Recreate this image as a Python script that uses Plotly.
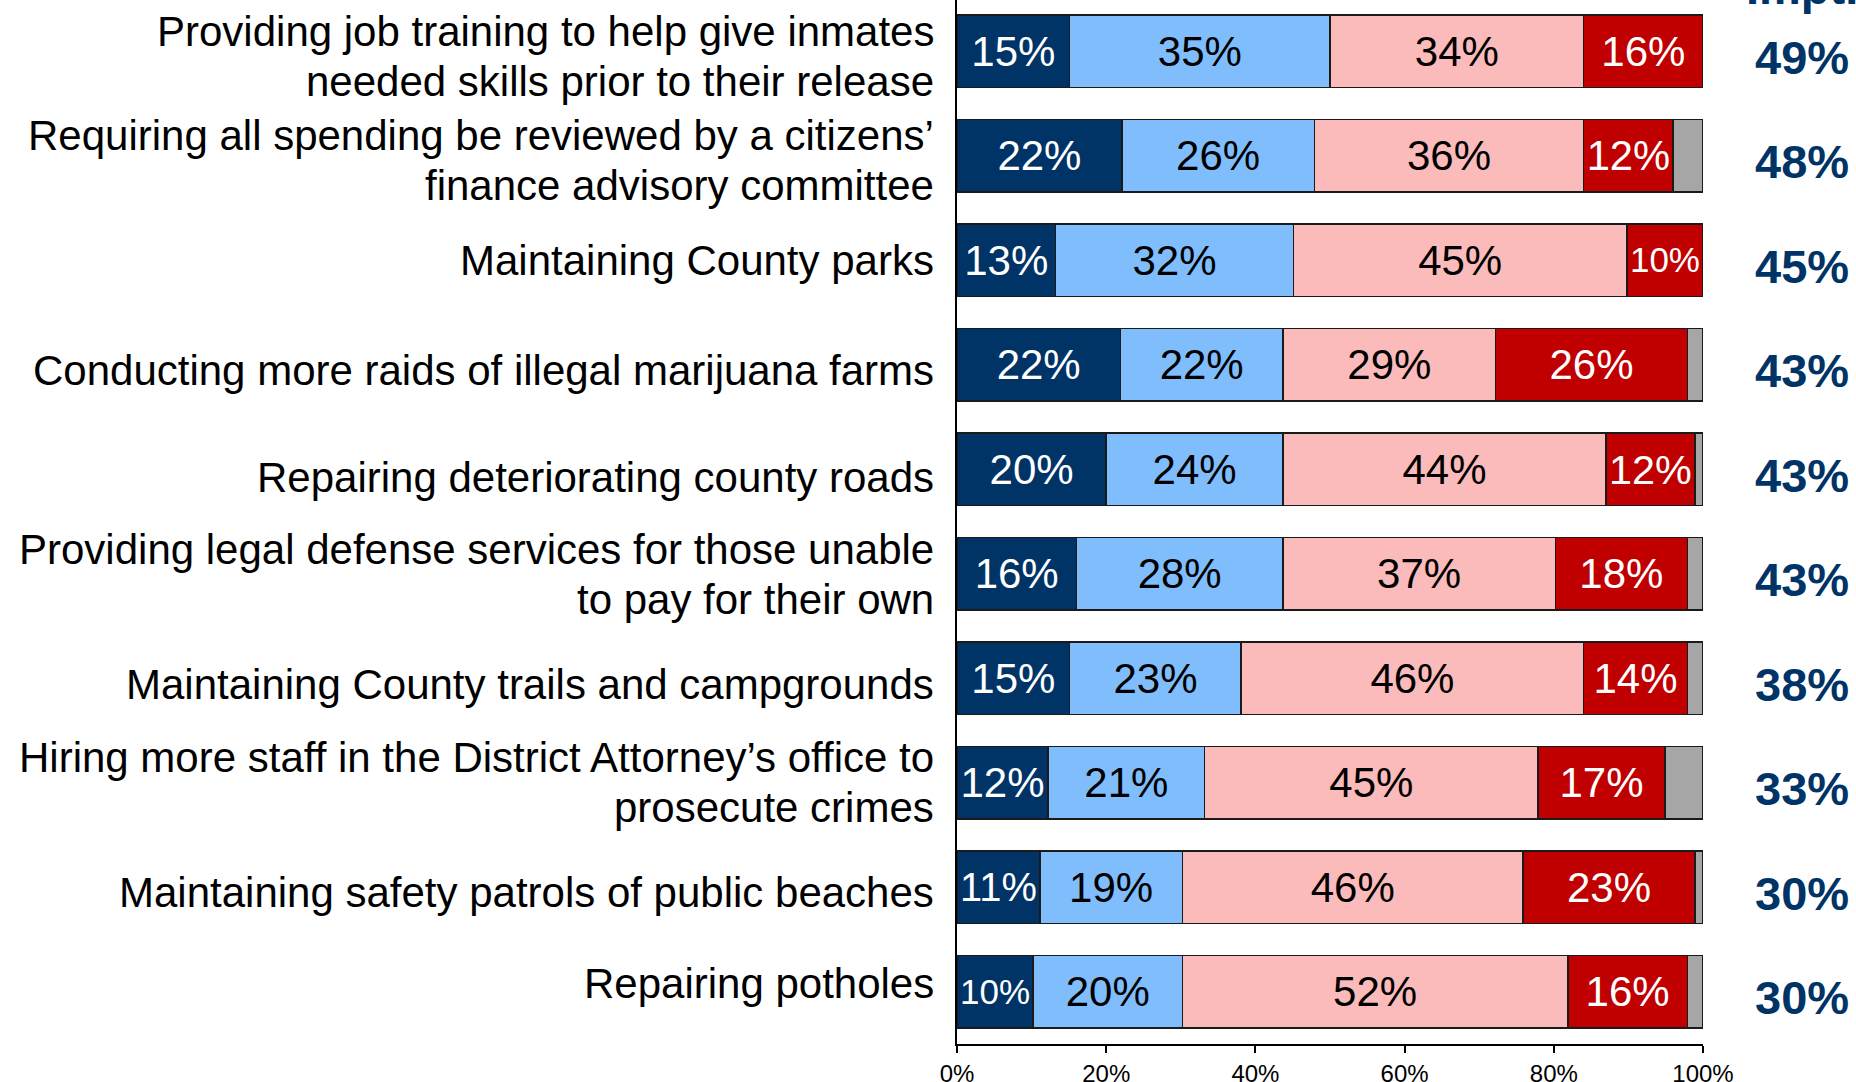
import plotly.graph_objects as go

# categories top to bottom
items = [
    "Providing job training to help give inmates<br>needed skills prior to their release",
    "Requiring all spending be reviewed by a citizens’<br>finance advisory committee",
    "Maintaining County parks",
    "Conducting more raids of illegal marijuana farms",
    "Repairing deteriorating county roads",
    "Providing legal defense services for those unable<br>to pay for their own",
    "Maintaining County trails and campgrounds",
    "Hiring more staff in the District Attorney’s office to<br>prosecute crimes",
    "Maintaining safety patrols of public beaches",
    "Repairing potholes",
]

# segment widths (share of respondents, %)
extremely = [15.1, 22.1, 13.2, 21.9, 20.0, 16.0, 15.1, 12.2, 11.1, 10.2]
very = [34.9, 25.8, 31.9, 21.8, 23.7, 27.7, 23.0, 21.0, 19.1, 20.0]
somewhat = [34.0, 36.1, 44.7, 28.5, 43.3, 36.5, 45.9, 44.7, 45.7, 51.7]
not_impt = [16.0, 12.0, 10.2, 25.7, 11.9, 17.7, 13.9, 17.0, 23.0, 16.0]
dk_na = [0.0, 4.0, 0.0, 2.1, 1.1, 2.1, 2.1, 5.1, 1.1, 2.1]

# printed labels
extremely_lbl = [15, 22, 13, 22, 20, 16, 15, 12, 11, 10]
very_lbl = [35, 26, 32, 22, 24, 28, 23, 21, 19, 20]
somewhat_lbl = [34, 36, 45, 29, 44, 37, 46, 45, 46, 52]
not_lbl = [16, 12, 10, 26, 12, 18, 14, 17, 23, 16]

total_impt = [49, 48, 45, 43, 43, 43, 38, 33, 30, 30]

FONT = "Liberation Sans, Arial, sans-serif"
NAVY = "#003366"

# small vertical nudges of the row labels (px, positive = down), as in the slide
label_dy = [5, 5, 0, 6, 8, 1, 6, 0, 5, -8]
LINE_GAP = 50

segments = [
    (extremely, extremely_lbl, NAVY, "white"),
    (very, very_lbl, "#7FBDFD", "black"),
    (somewhat, somewhat_lbl, "#FBBBBB", "black"),
    (not_impt, not_lbl, "#C00000", "white"),
    (dk_na, None, "#A6A6A6", "black"),
]

fig = go.Figure()
for vals, lbls, color, txtcolor in segments:
    fig.add_trace(go.Bar(
        y=items,
        x=vals,
        orientation="h",
        marker=dict(color=color, line=dict(color="#1a1a1a", width=1.5)),
        width=0.69,
        text=[f"{v}%" for v in lbls] if lbls else None,
        textposition="inside" if lbls else "none",
        insidetextanchor="middle",
        textangle=0,
        textfont=dict(family=FONT, size=42, color=txtcolor),
        hoverinfo="skip",
        showlegend=False,
    ))

# row labels, one annotation per line so the line spacing can be tighter
for name, dy in zip(items, label_dy):
    lines = name.split("<br>")
    n = len(lines)
    for i, line in enumerate(lines):
        fig.add_annotation(
            x=0, y=name, xref="paper", yref="y",
            xanchor="right", xshift=-21,
            yshift=-dy - (i - (n - 1) / 2) * LINE_GAP,
            text=line, showarrow=False,
            font=dict(family=FONT, size=42, color="black"),
        )

# "Impt." column on the right
for name, v in zip(items, total_impt):
    fig.add_annotation(
        x=1.133, y=name, xref="paper", yref="y", xanchor="center",
        text=f"{v}%", showarrow=False, yshift=-6,
        font=dict(family=FONT, size=47, color=NAVY, weight="bold"),
    )

fig.add_annotation(
    x=1.133, y=1, xref="paper", yref="paper", xanchor="center", yanchor="bottom",
    text="Impt.", showarrow=False, yshift=-16,
    font=dict(family=FONT, size=47, color=NAVY, weight="bold"),
)

fig.update_layout(
    width=1856,
    height=1082,
    barmode="stack",
    paper_bgcolor="white",
    plot_bgcolor="white",
    margin=dict(l=957, r=153, t=0, b=38, autoexpand=False),
    xaxis=dict(
        range=[0, 100],
        tickvals=[0, 20, 40, 60, 80, 100],
        ticktext=["0%", "20%", "40%", "60%", "80%", "100%"],
        ticks="outside", ticklen=7, tickcolor="black", tickwidth=1.5,
        showline=True, linecolor="black", linewidth=1.5,
        showgrid=False, zeroline=False,
        tickfont=dict(family=FONT, size=24, color="black"),
    ),
    yaxis=dict(
        type="category",
        categoryorder="array",
        categoryarray=items,
        range=[9.5, -0.49],
        showline=True, linecolor="black", linewidth=2,
        showgrid=False, zeroline=False,
        ticks="", showticklabels=False,
    ),
)

# page has a default body margin; drop it so the figure sits at 0,0
fig.write_html(
    "out.html",
    config={"displayModeBar": False},
    post_script="document.body.style.margin='0';",
)
